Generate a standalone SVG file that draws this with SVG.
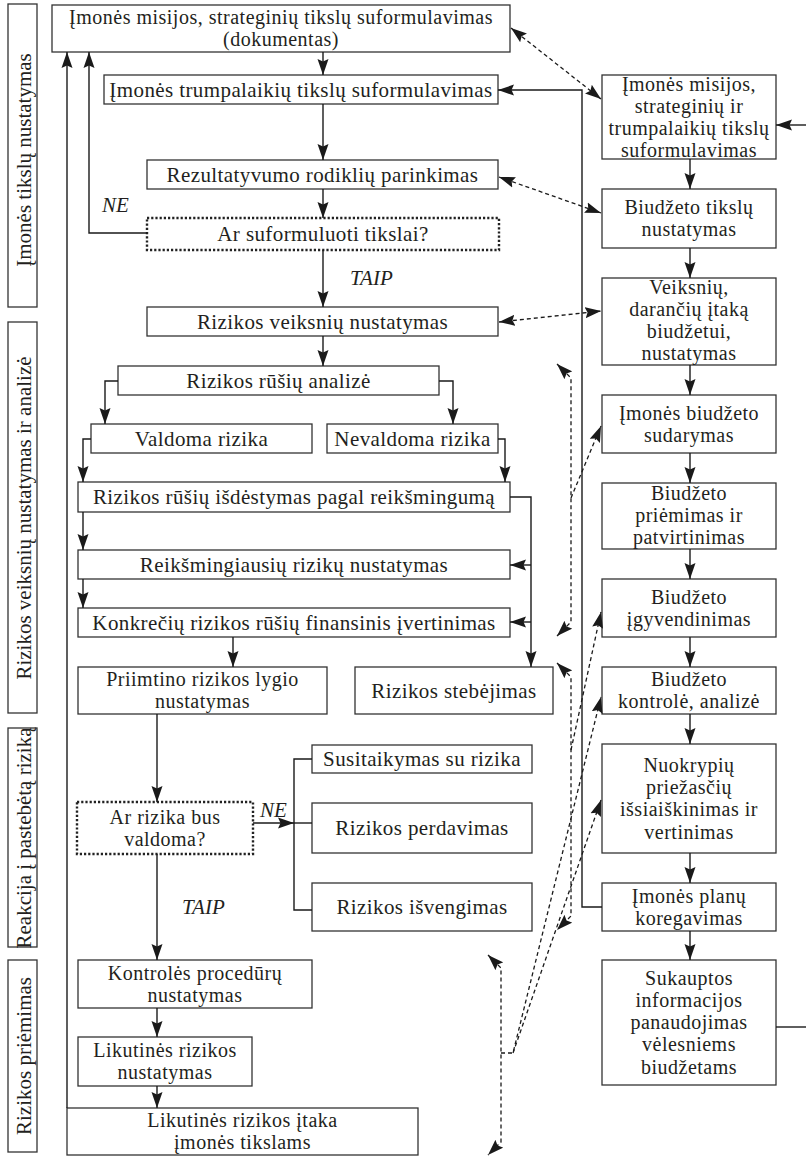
<svg xmlns="http://www.w3.org/2000/svg" width="806" height="1157" viewBox="0 0 806 1157">
  <style>
    .box { fill: #fff; stroke: #333; stroke-width: 1.3; }
    .dot { stroke: #222; stroke-width: 2.4; stroke-dasharray: 2.2 2; }
    .t { font-family: "Liberation Serif", "Times New Roman", serif; font-size: 21px; fill: #231f20; text-anchor: middle; letter-spacing: 0.4px; }
    .v { letter-spacing: 0; }
    .m { font-size: 20px; letter-spacing: 0.5px; }
    .it { font-style: italic; text-anchor: start; letter-spacing: 0; }
    .ln { fill: none; stroke: #1a1a1a; stroke-width: 1.4; }
    .ds { stroke-dasharray: 4 3; stroke-width: 1.3; }
  </style>
  <defs>
    <marker id="arr" markerUnits="userSpaceOnUse" markerWidth="16" markerHeight="12" viewBox="0 0 16 12" refX="16" refY="6" orient="auto-start-reverse">
      <path d="M0,0.5 L16,6 L0,11.5 L2.5,6 z" fill="#1a1a1a"/>
    </marker>
  </defs>
  <rect width="806" height="1157" fill="#fff"/>

  <!-- stage labels on the left -->
  <g id="stage-goals">
    <rect class="box" x="8" y="4" width="29" height="303"/>
    <text class="t v" transform="translate(31,160) rotate(-90)">Įmonės tikslų nustatymas</text>
  </g>
  <g id="stage-analysis">
    <rect class="box" x="8" y="322" width="29" height="391"/>
    <text class="t v" transform="translate(31,518) rotate(-90)">Rizikos veiksnių nustatymas ir analizė</text>
  </g>
  <g id="stage-reaction">
    <rect class="box" x="8" y="728" width="29" height="219"/>
    <text class="t v" transform="translate(31,838) rotate(-90)">Reakcija į pastebėtą riziką</text>
  </g>
  <g id="stage-acceptance">
    <rect class="box" x="8" y="960" width="29" height="192"/>
    <text class="t v" transform="translate(31,1056) rotate(-90)">Rizikos priėmimas</text>
  </g>

  <!-- risk management column -->
  <g id="n-mission">
    <rect class="box" x="52" y="5" width="458" height="47"/>
    <text class="t m" x="281" y="24">Įmonės misijos, strateginių tikslų suformulavimas<tspan x="281" dy="22.2">(dokumentas)</tspan></text>
  </g>
  <g id="n-short-goals">
    <rect class="box" x="104" y="75" width="394" height="29"/>
    <text class="t" x="301" y="97">Įmonės trumpalaikių tikslų suformulavimas</text>
  </g>
  <g id="n-indicators">
    <rect class="box" x="147" y="160" width="351" height="29"/>
    <text class="t" x="322.5" y="182">Rezultatyvumo rodiklių parinkimas</text>
  </g>
  <g id="n-goals-set">
    <rect class="box dot" x="147" y="218" width="352" height="32"/>
    <text class="t" x="323" y="241">Ar suformuluoti tikslai?</text>
  </g>
  <g id="n-risk-factors">
    <rect class="box" x="147" y="307" width="351" height="29"/>
    <text class="t" x="322.5" y="329">Rizikos veiksnių nustatymas</text>
  </g>
  <g id="n-risk-types">
    <rect class="box" x="118" y="366" width="321" height="29"/>
    <text class="t" x="278.5" y="388">Rizikos rūšių analizė</text>
  </g>
  <g id="n-controlled">
    <rect class="box" x="91" y="424" width="221" height="29"/>
    <text class="t" x="201.5" y="446">Valdoma rizika</text>
  </g>
  <g id="n-uncontrolled">
    <rect class="box" x="327" y="424" width="171" height="29"/>
    <text class="t" x="412.5" y="446">Nevaldoma rizika</text>
  </g>
  <g id="n-ranking">
    <rect class="box" x="78" y="482" width="432" height="30"/>
    <text class="t" x="294" y="504">Rizikos rūšių išdėstymas pagal reikšmingumą</text>
  </g>
  <g id="n-significant">
    <rect class="box" x="78" y="550" width="432" height="29"/>
    <text class="t" x="294" y="572">Reikšmingiausių rizikų nustatymas</text>
  </g>
  <g id="n-financial">
    <rect class="box" x="78" y="608" width="432" height="29"/>
    <text class="t" x="294" y="630">Konkrečių rizikos rūšių finansinis įvertinimas</text>
  </g>
  <g id="n-acceptable">
    <rect class="box" x="78" y="667" width="249" height="47"/>
    <text class="t m" x="202.5" y="686">Priimtino rizikos lygio<tspan x="202.5" dy="22.2">nustatymas</tspan></text>
  </g>
  <g id="n-monitoring">
    <rect class="box" x="355" y="667" width="198" height="47"/>
    <text class="t" x="454" y="698">Rizikos stebėjimas</text>
  </g>
  <g id="n-will-control">
    <rect class="box dot" x="77" y="802" width="176" height="52"/>
    <text class="t m" x="165" y="823.5">Ar rizika bus<tspan x="165" dy="22.2">valdoma?</tspan></text>
  </g>
  <g id="n-accept">
    <rect class="box" x="312" y="745" width="220" height="28"/>
    <text class="t" x="422" y="766">Susitaikymas su rizika</text>
  </g>
  <g id="n-transfer">
    <rect class="box" x="312" y="803" width="220" height="50"/>
    <text class="t" x="422" y="835">Rizikos perdavimas</text>
  </g>
  <g id="n-avoid">
    <rect class="box" x="312" y="883" width="220" height="48"/>
    <text class="t" x="422" y="914">Rizikos išvengimas</text>
  </g>
  <g id="n-procedures">
    <rect class="box" x="78" y="960" width="234" height="48"/>
    <text class="t m" x="195" y="979.5">Kontrolės procedūrų<tspan x="195" dy="22.2">nustatymas</tspan></text>
  </g>
  <g id="n-residual">
    <rect class="box" x="78" y="1037" width="174" height="49"/>
    <text class="t m" x="165" y="1057">Likutinės rizikos<tspan x="165" dy="22.2">nustatymas</tspan></text>
  </g>
  <g id="n-residual-impact">
    <rect class="box" x="67" y="1108" width="351" height="47"/>
    <text class="t m" x="242.5" y="1127">Likutinės rizikos įtaka<tspan x="242.5" dy="22.2">įmonės tikslams</tspan></text>
  </g>

  <!-- budgeting column -->
  <g id="b-mission">
    <rect class="box" x="602" y="75" width="174" height="84"/>
    <text class="t m" x="689" y="90.5">Įmonės misijos,<tspan x="689" dy="22.2">strateginių ir</tspan><tspan x="689" dy="22.2">trumpalaikių tikslų</tspan><tspan x="689" dy="22.2">suformulavimas</tspan></text>
  </g>
  <g id="b-goals">
    <rect class="box" x="602" y="189" width="174" height="59"/>
    <text class="t m" x="689" y="214">Biudžeto tikslų<tspan x="689" dy="22.2">nustatymas</tspan></text>
  </g>
  <g id="b-factors">
    <rect class="box" x="602" y="278" width="174" height="87"/>
    <text class="t m" x="689" y="293.5">Veiksnių,<tspan x="689" dy="22.2">darančių įtaką</tspan><tspan x="689" dy="22.2">biudžetui,</tspan><tspan x="689" dy="22.2">nustatymas</tspan></text>
  </g>
  <g id="b-compile">
    <rect class="box" x="602" y="395" width="174" height="58"/>
    <text class="t m" x="689" y="419.5">Įmonės biudžeto<tspan x="689" dy="22.2">sudarymas</tspan></text>
  </g>
  <g id="b-approve">
    <rect class="box" x="602" y="483" width="174" height="66"/>
    <text class="t m" x="689" y="499.5">Biudžeto<tspan x="689" dy="22.2">priėmimas ir</tspan><tspan x="689" dy="22.2">patvirtinimas</tspan></text>
  </g>
  <g id="b-implement">
    <rect class="box" x="602" y="579" width="174" height="58"/>
    <text class="t m" x="689" y="603.5">Biudžeto<tspan x="689" dy="22.2">įgyvendinimas</tspan></text>
  </g>
  <g id="b-control">
    <rect class="box" x="602" y="667" width="174" height="47"/>
    <text class="t m" x="689" y="686">Biudžeto<tspan x="689" dy="22.2">kontrolė, analizė</tspan></text>
  </g>
  <g id="b-deviations">
    <rect class="box" x="602" y="744" width="174" height="109"/>
    <text class="t m" x="689" y="772">Nuokrypių<tspan x="689" dy="22.2">priežasčių</tspan><tspan x="689" dy="22.2">išsiaiškinimas ir</tspan><tspan x="689" dy="22.2">vertinimas</tspan></text>
  </g>
  <g id="b-adjust">
    <rect class="box" x="602" y="883" width="174" height="48"/>
    <text class="t m" x="689" y="902.5">Įmonės planų<tspan x="689" dy="22.2">koregavimas</tspan></text>
  </g>
  <g id="b-reuse">
    <rect class="box" x="602" y="960" width="174" height="125"/>
    <text class="t m" x="689" y="984.7">Sukauptos<tspan x="689" dy="22.2">informacijos</tspan><tspan x="689" dy="22.2">panaudojimas</tspan><tspan x="689" dy="22.2">vėlesniems</tspan><tspan x="689" dy="22.2">biudžetams</tspan></text>
  </g>

  <!-- connectors -->
  <g id="connectors">
    <g class="ln" marker-end="url(#arr)">
      <path d="M323,52 V75"/>
      <path d="M323,104 V160"/>
      <path d="M323,189 V218"/>
      <path d="M323,250 V307"/>
      <path d="M147,233 H89 V52"/>
      <path d="M67,1108 V52"/>
      <path d="M323,336 V366"/>
      <path d="M118,381 H105 V424"/>
      <path d="M439,381 H453 V424"/>
      <path d="M91,439 H83 V482"/>
      <path d="M498,439 H505 V482"/>
      <path d="M83,512 V550"/>
      <path d="M83,579 V608"/>
      <path d="M510,497 H531 V667"/>
      <path d="M531,565 H510"/>
      <path d="M531,622 H510"/>
      <path d="M233,637 V667"/>
      <path d="M157,714 V802"/>
      <path d="M253,823 H294"/>
      <path d="M157,854 V960"/>
      <path d="M157,1008 V1037"/>
      <path d="M157,1086 V1108"/>
      <path d="M690,159 V189"/>
      <path d="M690,248 V278"/>
      <path d="M690,365 V395"/>
      <path d="M690,453 V483"/>
      <path d="M690,549 V579"/>
      <path d="M690,637 V667"/>
      <path d="M690,714 V744"/>
      <path d="M690,853 V883"/>
      <path d="M690,931 V960"/>
      <path d="M806,125 H776"/>
      <path d="M602,907 H582 V90 H498"/>
    </g>
    <g class="ln">
      <path d="M294,823 H312"/>
      <path d="M312,759 H294 V910 H312"/>
      <path d="M776,1027 H806"/>
    </g>
    <!-- dashed information links -->
    <g class="ln ds" marker-start="url(#arr)" marker-end="url(#arr)">
      <path d="M511,28 L601,99"/>
      <path d="M499,177 L601,213"/>
      <path d="M499,322 L601,311"/>
      <path d="M557,364 L571,378 V622 L557,636"/>
      <path d="M557,663 L571,677 V916 L557,930"/>
      <path d="M488,955 L501,968 V1142 L488,1155"/>
    </g>
    <g class="ln ds" marker-end="url(#arr)">
      <path d="M571,498 L601,426"/>
      <path d="M571,750 L601,612"/>
      <path d="M501,1053 H513 L601,697"/>
      <path d="M513,1053 L601,800"/>
    </g>
    <text class="t it" x="102" y="212">NE</text>
    <text class="t it" x="350" y="285">TAIP</text>
    <text class="t it" x="260" y="817">NE</text>
    <text class="t it" x="182" y="914">TAIP</text>
  </g>
</svg>
